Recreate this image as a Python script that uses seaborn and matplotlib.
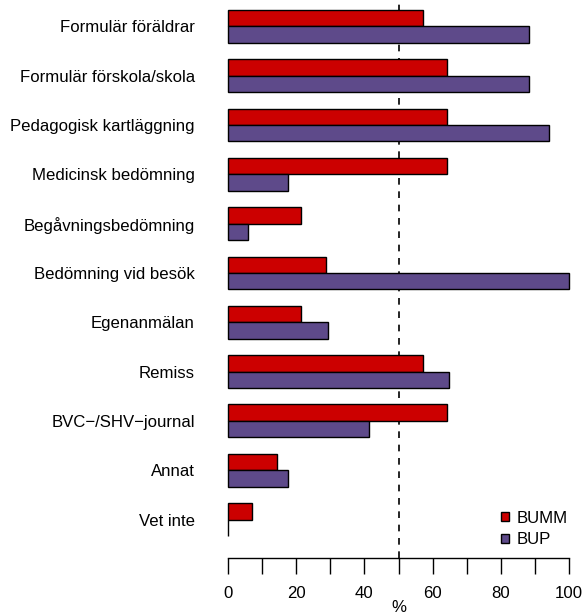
import pandas as pd
import matplotlib
matplotlib.use('Agg')
import matplotlib.pyplot as plt
import seaborn as sns

# categories top to bottom
categories = ['Formulär föräldrar', 'Formulär förskola/skola', 'Pedagogisk kartläggning',
              'Medicinsk bedömning', 'Begåvningsbedömning', 'Bedömning vid besök',
              'Egenanmälan', 'Remiss', 'BVC\u2212/SHV\u2212journal', 'Annat', 'Vet inte']
groups = ['BUMM', 'BUP']
bumm = [57.1, 64.3, 64.3, 64.3, 21.4, 28.6, 21.4, 57.1, 64.3, 14.3, 7.1]
bup = [88.2, 88.2, 94.1, 17.6, 5.9, 100.0, 29.4, 64.7, 41.2, 17.6, 0.0]
colors = ['#CC0000', '#5E4A8A']
xticks = list(range(0, 101, 10))

df = pd.DataFrame({
    'kategori': categories * 2,
    'grupp': [groups[0]] * len(categories) + [groups[1]] * len(categories),
    'procent': bumm + bup,
})

sns.set_style('white')
plt.rcParams['font.family'] = ['Liberation Sans', 'DejaVu Sans']
plt.rcParams['text.color'] = 'black'
plt.rcParams['axes.labelcolor'] = 'black'
plt.rcParams['xtick.color'] = 'black'
plt.rcParams['ytick.color'] = 'black'

fs = 12.1

fig = plt.figure(figsize=(5.85, 6.14), dpi=100)
ax = fig.add_axes([0.3665, 0.0912, 0.6294, 0.9088])

sns.barplot(data=df, x='procent', y='kategori', hue='grupp', order=categories,
            hue_order=groups, palette=colors, orient='h', width=2/3,
            edgecolor='black', linewidth=1.0, saturation=1, ax=ax)

ax.axvline(50, color='black', linestyle=(0, (4, 4)), linewidth=1.2, zorder=0.5)

ax.set_xlim(-4, 104)
ax.set_ylim(10.78, -0.536)

for s in ['top', 'right', 'left']:
    ax.spines[s].set_visible(False)
ax.spines['bottom'].set_bounds(0, 100)
ax.spines['bottom'].set_color('black')
ax.spines['bottom'].set_linewidth(1.0)

ax.set_xticks(xticks)
ax.set_xticklabels([str(t) if t % 20 == 0 else '' for t in xticks], fontsize=fs)
ax.tick_params(axis='x', direction='out', length=11.5, width=1.0, color='black', pad=9, bottom=True)
ax.tick_params(axis='y', length=0, pad=14, labelsize=fs)
ax.set_ylabel('')
ax.set_xlabel('%', fontsize=fs, labelpad=-1)

handles, labels = ax.get_legend_handles_labels()
ax.legend(handles, labels, loc='lower right', bbox_to_anchor=(1.0, -0.008), frameon=False,
          fontsize=fs, handlelength=0.45, handleheight=0.45, handletextpad=0.45,
          labelspacing=0.4)

fig.savefig('out.png', dpi=100)
